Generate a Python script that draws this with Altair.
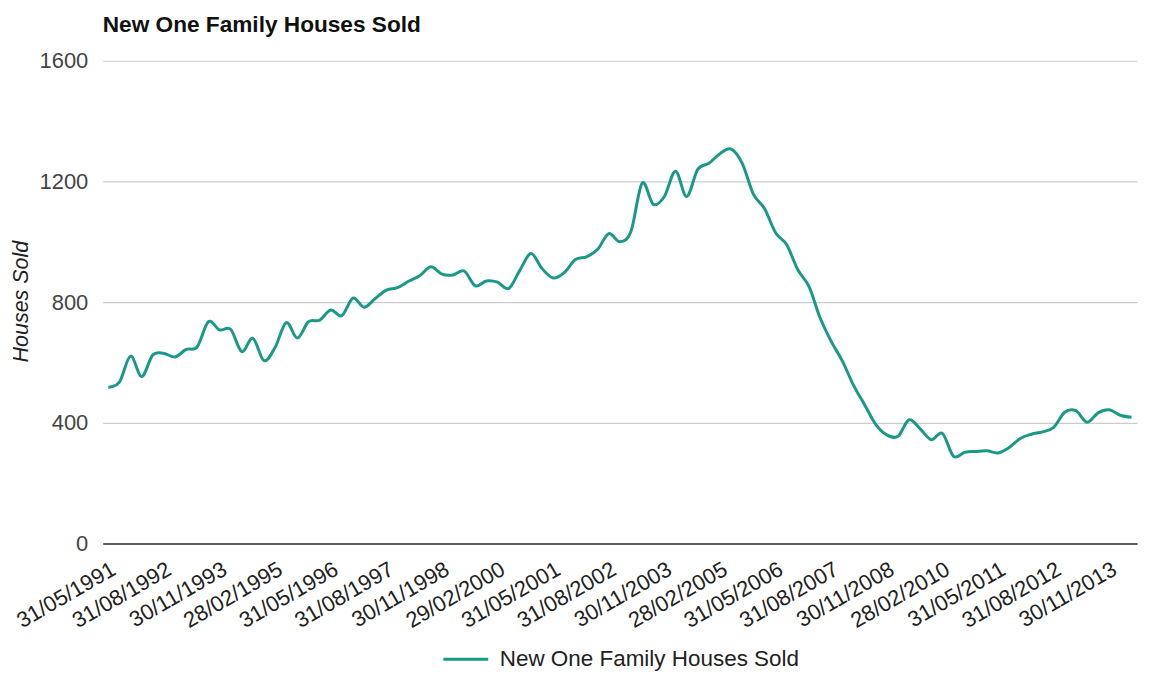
import calendar
import altair as alt
import pandas as pd

# Quarterly values (thousands)
sales = [518, 535, 621, 553, 625, 630, 618, 643, 652, 735,
         708, 710, 636, 680, 606, 650, 732, 681, 735, 740,
         774, 755, 813, 783, 812, 840, 848, 869, 887, 917,
         893, 890, 903, 854, 870, 866, 845, 905, 961, 911,
         880, 898, 941, 950, 975, 1027, 1000, 1035, 1194, 1124,
         1150, 1234, 1150, 1240, 1260, 1292, 1307, 1260, 1158, 1110,
         1030, 990, 907, 852, 748, 670, 605, 525, 460, 395,
         360, 355, 410, 380, 344, 365, 289, 302, 305, 307,
         300, 318, 348, 362, 370, 385, 435, 440, 402, 433,
         443, 425, 418]

# Quarter-end date labels starting 31/05/1991
dates = []
yy, mm = 1991, 5
for _ in range(len(sales)):
    dd = calendar.monthrange(yy, mm)[1]
    dates.append(f"{dd:02d}/{mm:02d}/{yy}")
    mm += 3
    if mm > 12:
        mm -= 12
        yy += 1

tick_labels = dates[::5]
y_ticks = [0, 400, 800, 1200, 1600]
series_name = "New One Family Houses Sold"

df = pd.DataFrame({"date": dates, "sold": sales, "series": series_name})

FONT = "Liberation Sans"

chart = alt.Chart(df).mark_line(
    interpolate="cardinal", strokeWidth=3
).encode(
    x=alt.X("date:O", sort=dates,
            scale=alt.Scale(type="point", padding=0.5),
            axis=alt.Axis(title=None, values=tick_labels, labelAngle=330,
                          labelAlign="right", labelBaseline="top",
                          labelFontSize=22, labelColor="#222", labelFont=FONT,
                          labelPadding=15, labelOverlap=False, ticks=False,
                          domain=True, domainColor="#333", domainWidth=1.5,
                          grid=False)),
    y=alt.Y("sold:Q", scale=alt.Scale(domain=[0, 1600], nice=False),
            axis=alt.Axis(title="Houses Sold", values=y_ticks, format="d",
                          labelFontSize=22, labelColor="#444", labelFont=FONT,
                          labelPadding=15, ticks=False, domain=False,
                          grid=True, gridColor="#cccccc", gridWidth=1.2,
                          titleFont=FONT, titleFontSize=21.5, titleFontStyle="italic",
                          titleFontWeight="normal", titleColor="#222",
                          titleAngle=270, titleX=-81, titleY=241,
                          titleAlign="center", titleBaseline="middle")),
    color=alt.Color("series:N", scale=alt.Scale(range=["#1a9988"]),
                    legend=alt.Legend(title=None, orient="none",
                                      legendX=340, legendY=576,
                                      symbolType="stroke", symbolSize=2025,
                                      symbolStrokeWidth=3, labelFontSize=22.5,
                                      labelFont=FONT, labelColor="#222",
                                      labelLimit=600,
                                      labelOffset=10, padding=0)),
).properties(
    width=1037,
    height=484,
    title=alt.TitleParams(series_name, anchor="start", fontSize=22.7,
                          fontWeight="bold", color="#111", font=FONT,
                          frame="group", offset=13),
    autosize=alt.AutoSizeParams(type="none"),
    padding={"left": 95, "top": 52, "right": 15, "bottom": 129},
).configure_view(stroke=None)

chart.save("out.html", embed_options={"renderer": "svg", "actions": False})
